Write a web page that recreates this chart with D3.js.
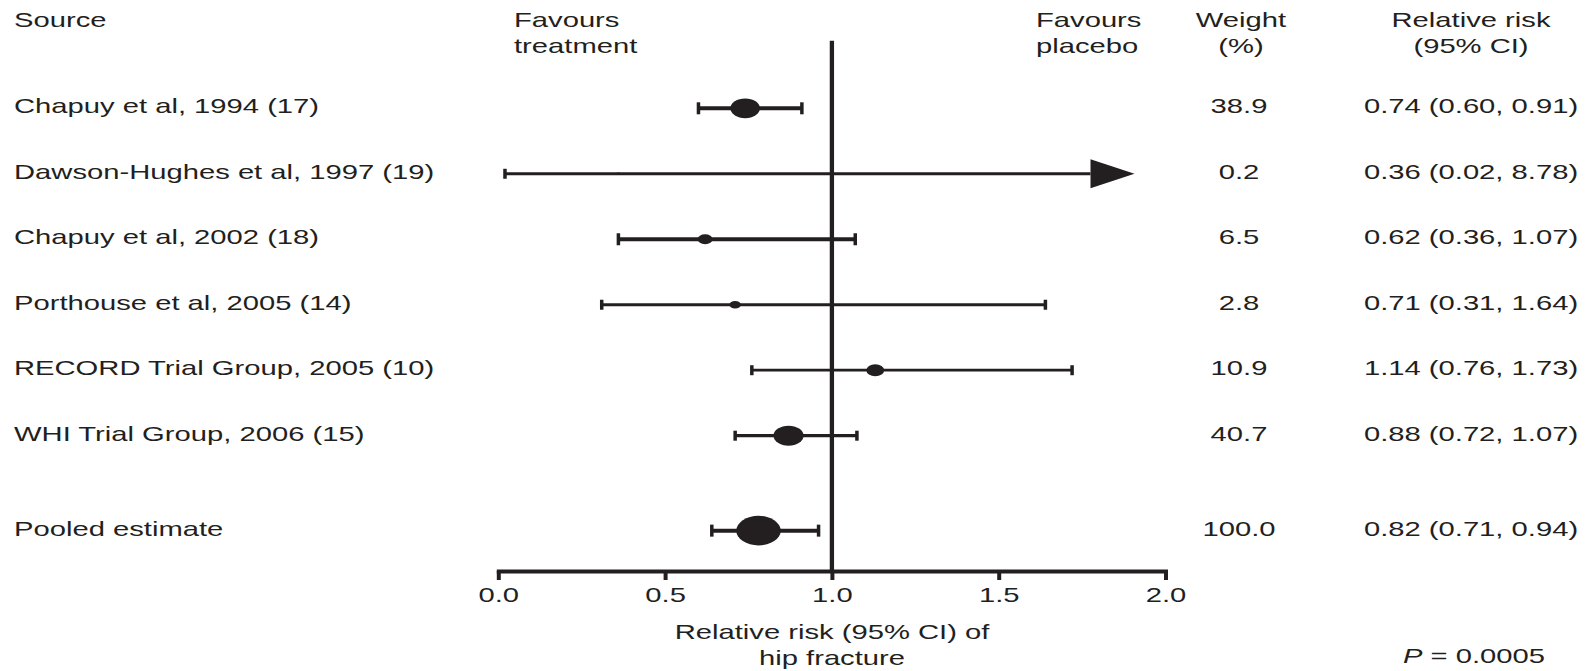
<!DOCTYPE html>
<html>
<head>
<meta charset="utf-8">
<script src="https://cdn.jsdelivr.net/npm/d3@7/dist/d3.min.js"></script>
<style>
  body { margin: 0; background: #fff; }
  svg text { font-family: "Liberation Sans", Arial, Helvetica, sans-serif; font-size: 20px; fill: #231f20; }
</style>
</head>
<body>
<div id="chart"></div>
<script>
(function () {
  'use strict';

  // study rows
  var sources = ["Chapuy et al, 1994 (17)", "Dawson-Hughes et al, 1997 (19)", "Chapuy et al, 2002 (18)",
                 "Porthouse et al, 2005 (14)", "RECORD Trial Group, 2005 (10)", "WHI Trial Group, 2006 (15)",
                 "Pooled estimate"];
  var weights = [38.9, 0.2, 6.5, 2.8, 10.9, 40.7, 100.0];
  var weightLabels = ["38.9", "0.2", "6.5", "2.8", "10.9", "40.7", "100.0"];
  var rrLabels = ["0.74 (0.60, 0.91)", "0.36 (0.02, 8.78)", "0.62 (0.36, 1.07)", "0.71 (0.31, 1.64)",
                  "1.14 (0.76, 1.73)", "0.88 (0.72, 1.07)", "0.82 (0.71, 0.94)"];
  // where the marks sit in the picture
  var est = [0.74, 0.36, 0.62, 0.71, 1.13, 0.87, 0.78];
  var lo  = [0.60, 0.02, 0.36, 0.31, 0.76, 0.71, 0.64];
  var hi  = [0.91, 8.78, 1.07, 1.64, 1.72, 1.075, 0.96];
  var xTicks = [0, 0.5, 1, 1.5, 2];

  // line weight per row (style only)
  var lineW = [4, 2.9, 4, 2.8, 2.8, 3.3, 4];

  var width = 1590, height = 671,
      ink = "#231f20",
      SX = 1.46,          // the figure is stretched sideways
      axisY = 571;

  var x = d3.scaleLinear().domain([0, 2]).range([498.3, 1165.5]);
  var rowY = d3.scaleLinear().domain([0, 5]).range([108.3, 435.7]);
  function yOf(i) { return rowY(i < 6 ? i : 6.45); }

  // marker half-height from weight (polylinear on sqrt)
  var size = d3.scaleLinear()
    .domain([Math.sqrt(0.2), Math.sqrt(2.8), 10])
    .range([1.2, 3.8, 14.8]);

  var svg = d3.select("#chart").append("svg")
    .attr("width", width)
    .attr("height", height);

  function label(sel, px, py, str, anchor) {
    return sel.append("text")
      .attr("transform", "translate(" + px + "," + py + ") scale(" + SX + ",1)")
      .attr("text-anchor", anchor || "start")
      .text(str);
  }

  var wCol = 1239, rrCol = 1471;

  // headers
  var head = svg.append("g");
  label(head, 14, 26.5, "Source");
  label(head, 514, 26.5, "Favours");
  label(head, 514, 53.3, "treatment");
  label(head, 1036, 26.5, "Favours");
  label(head, 1036, 53.3, "placebo");
  label(head, wCol + 2, 26.5, "Weight", "middle");
  label(head, wCol + 2, 53.3, "(%)", "middle");
  label(head, rrCol, 26.5, "Relative risk", "middle");
  label(head, rrCol, 53.3, "(95% CI)", "middle");

  // null line
  svg.append("line")
    .attr("x1", x(1)).attr("x2", x(1))
    .attr("y1", 40.7).attr("y2", axisY)
    .attr("stroke", ink).attr("stroke-width", 4.3);

  // axis
  var xAxis = d3.axisBottom(x)
    .tickValues(xTicks)
    .tickFormat(d3.format(".1f"))
    .tickSize(9)
    .tickSizeOuter(0);

  var ax = svg.append("g")
    .attr("transform", "translate(0," + axisY + ")")
    .call(xAxis);
  ax.attr("font-family", null).attr("font-size", null);
  ax.select(".domain").attr("stroke", ink).attr("stroke-width", 4).attr("stroke-linecap", "square");
  ax.selectAll(".tick line").attr("stroke", ink).attr("stroke-width", 4);
  ax.selectAll(".tick text")
    .attr("y", 30.7).attr("dy", null)
    .attr("transform", "scale(" + SX + ",1)")
    .attr("fill", ink);

  label(svg, 832, 639, "Relative risk (95% CI) of", "middle");
  label(svg, 832, 665, "hip fracture", "middle");

  // rows
  var rows = svg.selectAll(".row")
    .data(sources)
    .enter().append("g")
    .attr("class", "row")
    .attr("transform", function (d, i) { return "translate(0," + yOf(i) + ")"; });

  rows.each(function (d, i) {
    var g = d3.select(this),
        w = lineW[i],
        capH = w > 3.5 ? 12 : 10,
        over = hi[i] > x.domain()[1],
        tip = x(x.domain()[1]) - 31,
        base = tip - 44,
        x2 = over ? base : x(hi[i]);

    label(g, 14, 5, d);
    label(g, wCol, 5, weightLabels[i], "middle");
    label(g, rrCol, 5, rrLabels[i], "middle");

    g.append("line")
      .attr("x1", x(lo[i])).attr("x2", x2)
      .attr("stroke", ink).attr("stroke-width", w);

    g.append("line")
      .attr("x1", x(lo[i])).attr("x2", x(lo[i]))
      .attr("y1", -capH / 2).attr("y2", capH / 2)
      .attr("stroke", ink).attr("stroke-width", 3.5);

    if (over) {
      g.append("path")
        .attr("d", "M" + base + "," + (-14.5) + "L" + tip + ",0L" + base + ",14.5Z")
        .attr("fill", ink);
    } else {
      g.append("line")
        .attr("x1", x(hi[i])).attr("x2", x(hi[i]))
        .attr("y1", -capH / 2).attr("y2", capH / 2)
        .attr("stroke", ink).attr("stroke-width", 3.5);
    }

    var ry = size(Math.sqrt(weights[i]));
    g.append("ellipse")
      .attr("cx", x(est[i]))
      .attr("rx", ry * 1.5)
      .attr("ry", ry)
      .attr("fill", ink);
  });

  // p value
  var p = svg.append("text")
    .attr("transform", "translate(1474,663.3) scale(" + SX + ",1)")
    .attr("text-anchor", "middle");
  p.append("tspan").style("font-style", "italic").text("P");
  p.append("tspan").text(" = 0.0005");

})();
</script>
</body>
</html>
